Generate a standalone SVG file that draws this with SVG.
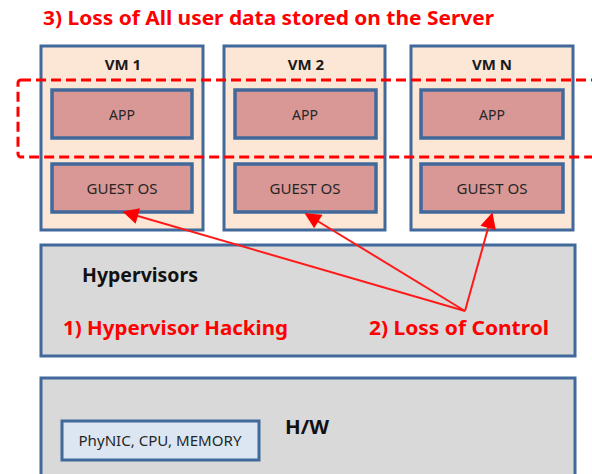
<svg xmlns="http://www.w3.org/2000/svg" width="592" height="474" viewBox="0 0 592 474">
  <style>
    .vm { fill: #fce6d6; stroke: #41699b; stroke-width: 3; }
    .layer { fill: #d99796; stroke: #41699b; stroke-width: 3.5; }
    .base { fill: #d9d9d9; stroke: #41699b; stroke-width: 3; }
    .hwpart { fill: #dce6f2; stroke: #41699b; stroke-width: 3; }
    .lbl { font-family: "Noto Sans", "Noto Sans CJK KR", sans-serif; font-size: 14px; fill: #262626; text-anchor: middle; }
    .vmname { font-family: "Noto Sans", "Noto Sans CJK KR", sans-serif; font-weight: bold; font-size: 15px; fill: #1a1a1a; text-anchor: middle; }
    .head { font-family: "Noto Sans", "Noto Sans CJK KR", sans-serif; font-weight: bold; font-size: 19px; fill: #111; }
    .warn { font-family: "Noto Sans", "Noto Sans CJK KR", sans-serif; font-weight: bold; font-size: 20px; fill: #ff0000; }
    .attack { stroke: #ff1a1a; stroke-width: 2; fill: none; }
  </style>
  <defs>
    <marker id="tip" viewBox="0 0 10 10" refX="9" refY="5" markerWidth="9" markerHeight="8" orient="auto" markerUnits="strokeWidth">
      <path d="M0,0 L10,5 L0,10 z" fill="#ff0000"/>
    </marker>
  </defs>

  <rect width="592" height="474" fill="#ffffff"/>

  <text class="warn" x="43" y="25" font-size="18" textLength="451" lengthAdjust="spacingAndGlyphs">3) Loss of All user data stored on the Server</text>

  <g id="vm1">
    <rect class="vm" x="41" y="46" width="162" height="184"/>
    <text class="vmname" x="123" y="70">VM 1</text>
    <rect class="layer" x="52" y="90" width="140" height="48"/>
    <text class="lbl" x="122" y="120">APP</text>
    <rect class="layer" x="52" y="164" width="140" height="48"/>
    <text class="lbl" x="122" y="194" textLength="71" lengthAdjust="spacingAndGlyphs">GUEST OS</text>
  </g>

  <g id="vm2">
    <rect class="vm" x="224" y="46" width="161" height="184"/>
    <text class="vmname" x="306" y="70">VM 2</text>
    <rect class="layer" x="235" y="90" width="141" height="48"/>
    <text class="lbl" x="305" y="120">APP</text>
    <rect class="layer" x="235" y="164" width="141" height="48"/>
    <text class="lbl" x="305" y="194" textLength="71" lengthAdjust="spacingAndGlyphs">GUEST OS</text>
  </g>

  <g id="vmn">
    <rect class="vm" x="411" y="46" width="162" height="184"/>
    <text class="vmname" x="492" y="70">VM N</text>
    <rect class="layer" x="421" y="90" width="142" height="48"/>
    <text class="lbl" x="492" y="120">APP</text>
    <rect class="layer" x="421" y="164" width="142" height="48"/>
    <text class="lbl" x="492" y="194" textLength="71" lengthAdjust="spacingAndGlyphs">GUEST OS</text>
  </g>

  <!-- scope of data loss across every application -->
  <g id="data-scope">
    <rect x="18" y="80" width="590" height="77" fill="none" stroke="#ff0000" stroke-width="3" stroke-dasharray="10,5" rx="3"/>
  </g>

  <g id="hypervisor">
    <rect class="base" x="41" y="245" width="534" height="111"/>
    <text class="head" x="82" y="282" textLength="116" lengthAdjust="spacingAndGlyphs">Hypervisors</text>
    <text class="warn" x="63" y="335" textLength="225" lengthAdjust="spacingAndGlyphs">1) Hypervisor  Hacking</text>
    <text class="warn" x="369" y="335" textLength="180" lengthAdjust="spacingAndGlyphs">2) Loss of Control</text>
  </g>

  <g id="hardware">
    <rect class="base" x="41" y="378" width="534" height="110"/>
    <text class="head" x="285" y="434" textLength="44" lengthAdjust="spacingAndGlyphs">H/W</text>
    <rect class="hwpart" x="62" y="421" width="197" height="39"/>
    <text class="lbl" x="160" y="446" textLength="163" lengthAdjust="spacingAndGlyphs">PhyNIC, CPU, MEMORY</text>
  </g>

  <g id="connectors">
    <line class="attack" x1="465" y1="311" x2="124" y2="212" marker-end="url(#tip)"/>
    <line class="attack" x1="465" y1="311" x2="306" y2="214" marker-end="url(#tip)"/>
    <line class="attack" x1="465" y1="311" x2="492" y2="214" marker-end="url(#tip)"/>
  </g>
</svg>
